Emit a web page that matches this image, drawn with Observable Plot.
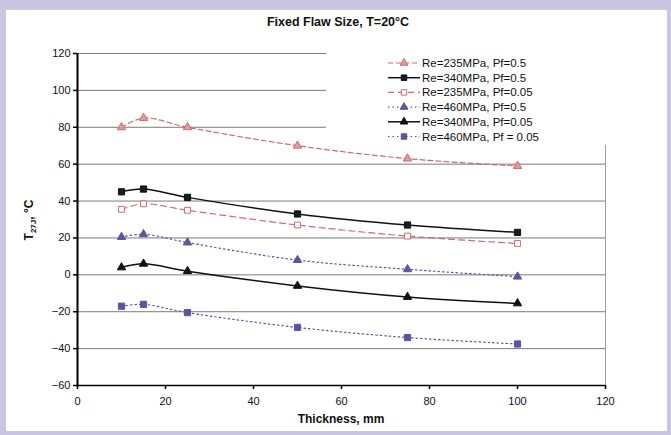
<!DOCTYPE html>
<html>
<head>
<meta charset="utf-8">
<script src="https://cdn.jsdelivr.net/npm/d3@7"></script>
<script src="https://cdn.jsdelivr.net/npm/@observablehq/plot@0.6"></script>
<style>
  html, body { margin: 0; padding: 0; }
  body { width: 671px; height: 435px; position: relative; overflow: hidden; background: #c9c5e2; font-family: "Liberation Sans", Arial, sans-serif; }
  #panel { position: absolute; left: 6px; top: 10px; width: 661px; height: 421px; background: #ffffff; }
  #chart { position: absolute; left: 0; top: 0; }
  #title { position: absolute; left: 0; width: 676px; top: 15px; text-align: center; font-weight: bold; font-size: 12.5px; color: #111; }
  #xlabel { position: absolute; left: 0; width: 682px; top: 412px; text-align: center; font-weight: bold; font-size: 12px; color: #111; }
  #ylabel { position: absolute; left: 30px; top: 220px; transform: translate(-50%, -50%) rotate(-90deg); white-space: nowrap; font-weight: bold; font-size: 12px; color: #111; }
  #ylabel sub { font-size: 8px; }
  #legend { position: absolute; left: 326px; top: 52px; width: 281px; height: 93px; background: #fff; }
</style>
</head>
<body>
<div id="panel"></div>
<div id="chart"></div>
<div id="title">Fixed Flaw Size, T=20°C</div>
<div id="xlabel">Thickness, mm</div>
<div id="ylabel">T<sub>27J</sub>, °C</div>
<div id="legend"></div>
<script>
// ---- data ----
const thickness = [10, 15, 25, 50, 75, 100];
const re235_pf05  = [80, 85, 80, 70, 63, 59];
const re340_pf05  = [45, 46.5, 42, 33, 27, 23];
const re235_pf005 = [35.5, 38.5, 35, 27, 21, 17];
const re460_pf05  = [20.5, 22, 17.5, 8, 3, -1];
const re340_pf005 = [4, 6, 2, -6, -12, -15.5];
const re460_pf005 = [-17, -16, -20.5, -28.5, -34, -37.5];
const seriesLabels = ["Re=235MPa, Pf=0.5", "Re=340MPa, Pf=0.5", "Re=235MPa, Pf=0.05", "Re=460MPa, Pf=0.5", "Re=340MPa, Pf=0.05", "Re=460MPa, Pf = 0.05"];
const xTicks = [0, 20, 40, 60, 80, 100, 120];
const yTicks = [-60, -40, -20, 0, 20, 40, 60, 80, 100, 120];

// ---- styles ----
const seriesValues = [re235_pf05, re340_pf05, re235_pf005, re460_pf05, re340_pf005, re460_pf005];
const styles = [
  {stroke: "#cf6a6a", dash: "5,3", symbol: "triangle", fill: "#e49a9a", r: 3.1},
  {stroke: "#111111", dash: null, symbol: "square", fill: "#1a1a22", r: 3.5},
  {stroke: "#cf6a6a", dash: "6,4", symbol: "square", fill: "#ffffff", r: 3.3},
  {stroke: "#5a55a3", dash: "1.5,3", symbol: "triangle", fill: "#5a55a3", r: 3.1},
  {stroke: "#111111", dash: null, symbol: "triangle", fill: "#111111", r: 3.1},
  {stroke: "#5a55a3", dash: "1.5,3", symbol: "square", fill: "#5a55a3", r: 3.5}
];

const rows = [];
seriesValues.forEach((vals, i) => vals.forEach((v, j) => rows.push({series: seriesLabels[i], idx: i, x: thickness[j], y: v})));

const marks = [
  Plot.gridY(yTicks, {stroke: "#7a7a7a", strokeOpacity: 1, strokeWidth: 1}),
  Plot.ruleX([120], {stroke: "#a0a0a0", strokeWidth: 1})
];
styles.forEach((s, i) => {
  const d = rows.filter(r => r.idx === i);
  marks.push(Plot.line(d, {x: "x", y: "y", stroke: s.stroke, strokeWidth: s.dash ? 1.2 : 1.5, strokeDasharray: s.dash, curve: "catmull-rom"}));
  marks.push(Plot.dot(d, {x: "x", y: "y", symbol: s.symbol, r: s.r, fill: s.fill, stroke: s.stroke, strokeWidth: 1}));
});
marks.push(
  Plot.ruleX([0], {stroke: "#000", strokeWidth: 2}),
  Plot.ruleY([-60], {stroke: "#000", strokeWidth: 1.5}),
  Plot.axisX({ticks: xTicks, tickSize: 4, tickPadding: 8, label: null, stroke: "#000", strokeWidth: 1.5, fill: "#111"}),
  Plot.axisY({ticks: yTicks, tickSize: 4, tickPadding: 3, label: null, stroke: "#000", strokeWidth: 1.5, fill: "#111"})
);

const chart = Plot.plot({
  width: 671,
  height: 435,
  marginLeft: 77,
  marginRight: 66,
  marginTop: 53,
  marginBottom: 50,
  x: {domain: [0, 120]},
  y: {domain: [-60, 120]},
  style: {background: "transparent", fontFamily: "Liberation Sans, Arial, sans-serif", fontSize: "11px", color: "#111", overflow: "visible"},
  marks
});
document.getElementById("chart").appendChild(chart);

// ---- legend ----
const legend = d3.select("#legend").append("svg").attr("width", 281).attr("height", 93);
seriesLabels.forEach((label, i) => {
  const s = styles[i];
  const cy = 11 + i * 14.7;
  const g = legend.append("g").attr("transform", `translate(0,${cy})`);
  g.append("line").attr("x1", 62).attr("x2", 94).attr("y1", 0).attr("y2", 0)
    .attr("stroke", s.stroke).attr("stroke-width", s.dash ? 1.2 : 1.5)
    .attr("stroke-dasharray", s.dash);
  const sym = s.symbol === "triangle" ? d3.symbolTriangle : d3.symbolSquare;
  const size = s.symbol === "triangle" ? 26 : 30;
  g.append("path").attr("transform", "translate(78,0)").attr("d", d3.symbol(sym, size)())
    .attr("fill", s.fill).attr("stroke", s.stroke);
  g.append("text").attr("x", 96).attr("y", 0).attr("dy", "0.35em")
    .attr("font-size", 11.5).attr("fill", "#111")
    .attr("font-family", "Liberation Sans, Arial, sans-serif").text(label);
});
</script>
</body>
</html>
